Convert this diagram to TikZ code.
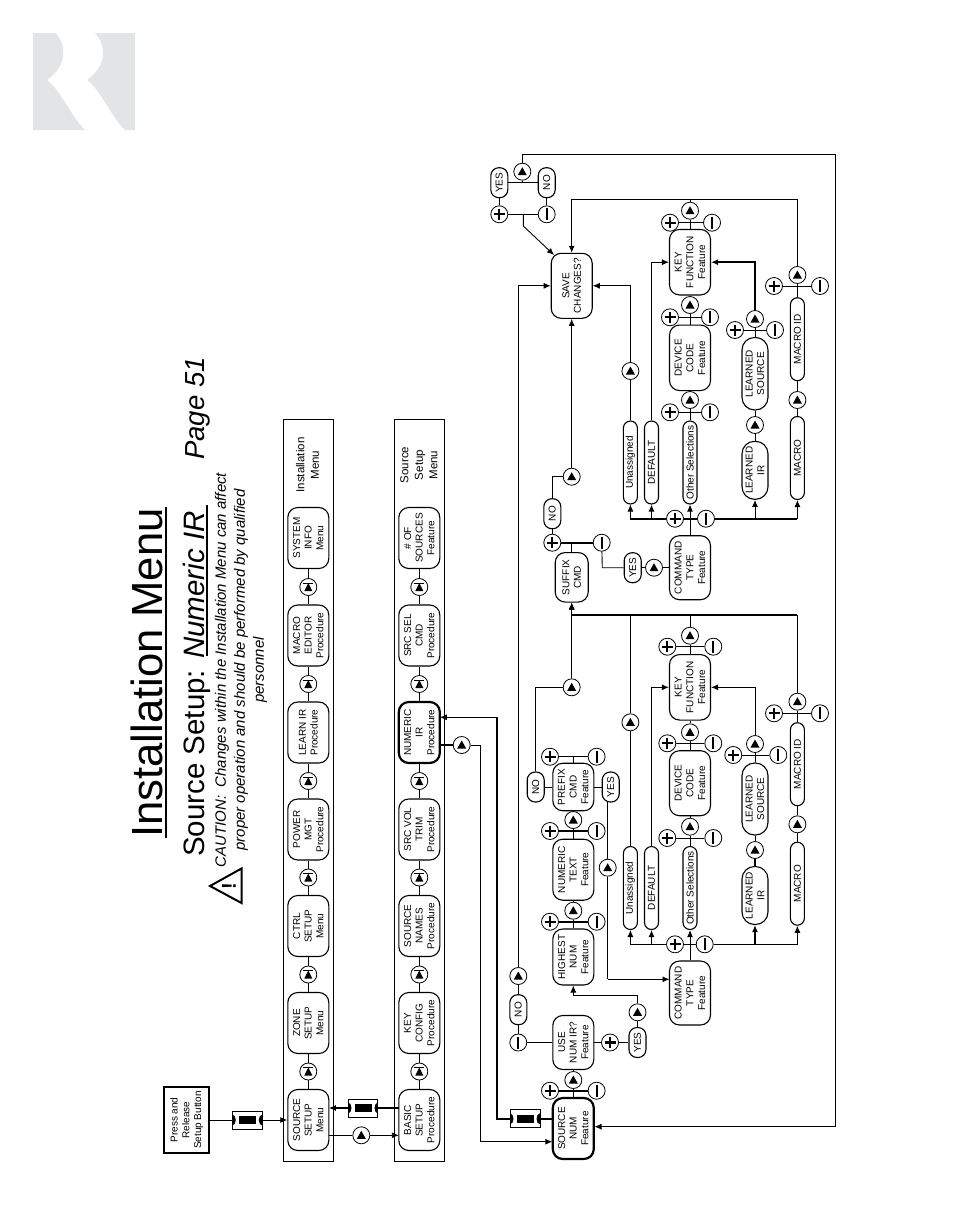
\documentclass[tikz,border=0pt]{standalone}
\usepackage{fontspec}
\setmainfont{Liberation Sans}
\usetikzlibrary{shapes,arrows,arrows.meta,positioning}
\definecolor{logogray}{HTML}{E3E4E6}
\newcommand{\labelfont}{\fontsize{10}{11.7}\selectfont}
\tikzset{
  boxnode/.style={draw, rectangle, rounded corners=10pt, rotate=90, align=center, fill=white, line width=1.1pt, inner sep=0pt, minimum height=41pt, minimum width=61pt, font=\labelfont},
  boldbox/.style={boxnode, line width=2.2pt},
  pill/.style={boxnode, rounded corners=7pt, minimum height=14pt, minimum width=83pt},
  softpill/.style={boxnode, rounded corners=12.5pt, minimum height=26pt},
  yesno/.style={boxnode, rounded corners=8pt, minimum height=17pt, minimum width=30pt},
  strip/.style={draw, rectangle, line width=0.9pt, inner sep=0pt, minimum width=50pt, minimum height=742pt},
  btn/.style={draw, circle, fill=white, line width=0.8pt, inner sep=0pt, minimum size=17pt},
  upbtn/.style={btn, path picture={\fill[black] (path picture bounding box.center) ++(-4.5,3.5) -- ++(9,0) -- ++(-4.5,-8) -- cycle;}},
  nextbtn/.style={btn, path picture={\fill[black] (path picture bounding box.center) ++(-4,4) -- ++(8,0) -- ++(-4,-8) -- cycle; \draw[line width=1pt] (path picture bounding box.center) ++(-5,-4) -- ++(10,0);}},
  plusbtn/.style={btn, path picture={\draw[line width=2.2pt] (path picture bounding box.center) ++(-5.5,0) -- ++(11,0); \draw[line width=2.2pt] (path picture bounding box.center) ++(0,-5.5) -- ++(0,11);}},
  minusbtn/.style={btn, path picture={\draw[line width=2.2pt] (path picture bounding box.center) ++(0,-6) -- ++(0,12);}},
  holdbtn/.style={draw, rectangle, fill=white, line width=0.9pt, inner sep=0pt, minimum width=30pt, minimum height=18pt, path picture={\fill[black] (path picture bounding box.center) ++(-8.5,-4) rectangle ++(17,8); \fill[black] (path picture bounding box.center) ++(-15,0) ellipse (3.5 and 5.5); \fill[black] (path picture bounding box.center) ++(15,0) ellipse (3.5 and 5.5);}},
  line/.style={line width=0.9pt},
  boldline/.style={line width=2pt},
  stripnote/.style={rotate=90, align=center, inner sep=0pt, font=\fontsize{11.5}{14.5}\selectfont}
}
\begin{document}
\begin{tikzpicture}[x=1pt, y=-1pt, >={Latex[length=7pt,width=6pt]}]
  \useasboundingbox (0,0) rectangle (954,1227);

  \fill[logogray] (33,33) -- (56,33) .. controls (66,45) and (68,65) .. (47,80) .. controls (62,92) and (70,115) .. (85,130) -- (33,130) -- cycle;
  \fill[logogray] (95,33) -- (135,33) -- (135,130) -- (125,130) .. controls (110,115) and (102,92) .. (87,80) .. controls (108,65) and (106,45) .. (95,33) -- cycle;

  \node[rotate=90, anchor=base west, inner sep=0pt, font=\fontsize{43.6}{50}\selectfont] (title) at (162,838) {Installation Menu};
  \draw[line width=1.8pt] (166,507) -- (166,838);
  \node[rotate=90, anchor=base west, inner sep=0pt, font=\fontsize{29.5}{34}\selectfont] (subtitle) at (204,857) {Source Setup: \textit{Numeric IR}};
  \draw[line width=1.2pt] (207,505) -- (207,656);
  \node[rotate=90, anchor=base west, inner sep=0pt, font=\fontsize{27.5}{32}\selectfont\itshape] (pageno) at (204,460) {Page 51};
  \node[rotate=90, align=center, inner sep=0pt, font=\fontsize{15}{19}\selectfont\itshape] (caution) at (241,670) {CAUTION:\ \ Changes within the Installation Menu can affect\\proper operation and should be performed by qualified\\personnel};
  \draw[line width=2pt, line join=miter, fill=white] (210,886) -- (241.5,868.5) -- (241.5,903) -- cycle;
  \node[rotate=90, inner sep=0pt, font=\fontsize{20}{22}\selectfont\bfseries] (warnmark) at (229,886) {!};

  \node[draw, rectangle, rotate=90, line width=2pt, align=center, inner sep=0pt, minimum width=66pt, minimum height=45pt, font=\labelfont] (press) at (186.8,1120) {Press and\\Release\\Setup Button};
  \node[holdbtn] (presshold) at (247.3,1120) {};

  \node[strip] (installstrip) at (308.3,790.5) {};
  \node[strip] (sourcestrip) at (419.3,790.5) {};
  \node[stripnote] (installnote) at (307.5,465) {Installation\\Menu};
  \node[stripnote] (sourcenote) at (419,465) {Source\\Setup\\Menu};

  \node[boxnode] (srcsetup) at (308.3,1120) {SOURCE\\SETUP\\Menu};
  \node[nextbtn] (zonenext) at (308.3,1071.5) {};
  \node[boxnode] (zonesetup) at (308.3,1023) {ZONE\\SETUP\\Menu};
  \node[nextbtn] (ctrlnext) at (308.3,974.5) {};
  \node[boxnode] (ctrlsetup) at (308.3,926) {CTRL\\SETUP\\Menu};
  \node[nextbtn] (powernext) at (308.3,877.5) {};
  \node[boxnode] (powermgt) at (308.3,829.5) {POWER\\MGT\\Procedure};
  \node[nextbtn] (learnnext) at (308.3,781) {};
  \node[boxnode] (learnir) at (308.3,732.5) {LEARN IR\\Procedure};
  \node[nextbtn] (macronext) at (308.3,684) {};
  \node[boxnode] (macroedit) at (308.3,635.5) {MACRO\\EDITOR\\Procedure};
  \node[nextbtn] (systemnext) at (308.3,587) {};
  \node[boxnode] (systeminfo) at (308.3,538) {SYSTEM\\INFO\\Menu};

  \node[boxnode] (basicsetup) at (419.3,1120) {BASIC\\SETUP\\Procedure};
  \node[nextbtn] (keynext) at (419.3,1071.5) {};
  \node[boxnode] (keyconfig) at (419.3,1023) {KEY\\CONFIG\\Procedure};
  \node[nextbtn] (namesnext) at (419.3,974.5) {};
  \node[boxnode] (srcnames) at (419.3,926) {SOURCE\\NAMES\\Procedure};
  \node[nextbtn] (trimnext) at (419.3,877.5) {};
  \node[boxnode] (volumetrim) at (419.3,829.5) {SRC VOL\\TRIM\\Procedure};
  \node[nextbtn] (numericnext) at (419.3,781) {};
  \node[boxnode, line width=2.2pt] (numericir) at (419.3,732.5) {NUMERIC\\IR\\Procedure};
  \node[nextbtn] (selnext) at (419.3,684) {};
  \node[boxnode] (srcselcmd) at (419.3,635.5) {SRC SEL\\CMD\\Procedure};
  \node[nextbtn] (sourcesnext) at (419.3,587) {};
  \node[boxnode] (numsources) at (419.3,538) {\# OF\\SOURCES\\Feature};

  \node[holdbtn, minimum width=29pt] (basichold) at (363,1108) {};
  \node[upbtn] (basicnext) at (361.3,1135.3) {};
  \coordinate (basicout) at (398.8,1108);
  \coordinate (srcsetupin) at (328.8,1108);
  \coordinate (srcsetupout) at (328.8,1135.3);
  \coordinate (basicin) at (398.8,1135.3);

  \draw[line] (press) -- (presshold);
  \draw[line, ->] (presshold) -- (srcsetup);
  \draw[boldline] (basicout) -- (basichold);
  \draw[boldline, ->] (basichold) -- (srcsetupin);
  \draw[line] (srcsetupout) -- (basicnext);
  \draw[line, ->] (basicnext) -- (basicin);

  \draw[line] (srcsetup) -- (zonenext) -- (zonesetup) -- (ctrlnext) -- (ctrlsetup) -- (powernext) -- (powermgt) -- (learnnext) -- (learnir) -- (macronext) -- (macroedit) -- (systemnext) -- (systeminfo);
  \draw[line] (basicsetup) -- (keynext) -- (keyconfig) -- (namesnext) -- (srcnames) -- (trimnext) -- (volumetrim) -- (numericnext) -- (numericir) -- (selnext) -- (srcselcmd) -- (sourcesnext) -- (numsources);

  \node[boldbox] (srcnum) at (573.3,1128.5) {SOURCE\\NUM\\Feature};
  \node[plusbtn] (srcnumplus) at (550,1090.7) {};
  \node[minusbtn] (srcnumminus) at (596.6,1090.7) {};
  \node[upbtn] (usenext) at (573.3,1080) {};
  \node[boxnode, minimum width=54pt] (usenum) at (573.3,1042.5) {USE\\NUM IR?\\Feature};
  \node[minusbtn] (useminus) at (518.3,1042.5) {};
  \node[yesno] (useno) at (518.3,1009.7) {NO};
  \node[upbtn] (usenonext) at (518.3,976) {};
  \node[plusbtn] (useplus) at (610,1042.5) {};
  \node[yesno] (useyes) at (637.5,1042.5) {YES};
  \node[upbtn] (useyesnext) at (637.5,1012.3) {};
  \node[boxnode, minimum width=56pt] (highest) at (573.3,957) {HIGHEST\\NUM\\Feature};
  \node[plusbtn] (highplus) at (550,921.7) {};
  \node[minusbtn] (highminus) at (596.6,921.7) {};
  \node[upbtn] (highnext) at (573.3,910.7) {};
  \node[boxnode] (numtext) at (573.3,869.7) {NUMERIC\\TEXT\\Feature};
  \node[plusbtn] (textplus) at (550,831) {};
  \node[minusbtn] (textminus) at (596.6,831) {};
  \node[upbtn] (textnext) at (573.3,820) {};
  \node[boxnode, minimum width=47.5pt] (prefix) at (573.3,787) {PREFIX\\CMD\\Feature};
  \node[plusbtn] (prefixplus) at (550,756.7) {};
  \node[minusbtn] (prefixminus) at (596.6,756.7) {};
  \node[yesno] (prefixno) at (535.7,787) {NO};
  \node[yesno] (prefixyes) at (610.7,787) {YES};
  \node[upbtn] (prefixyesnext) at (607.7,867.7) {};
  \node[upbtn] (prefixnonext) at (571.7,687.3) {};

  \node[boxnode, minimum width=64pt] (cmdtypea) at (690,993) {COMMAND\\TYPE\\Feature};
  \node[plusbtn] (cmdaplus) at (675,944.3) {};
  \node[minusbtn] (cmdaminus) at (704.7,944.3) {};
  \node[pill] (unassigna) at (630.4,888) {Unassigned};
  \node[pill] (defaulta) at (651.5,888) {DEFAULT};
  \node[pill] (othera) at (690,888) {Other Selections};
  \node[softpill, minimum width=58pt] (irleara) at (755,895.5) {LEARNED\\IR};
  \node[pill] (macroa) at (797.4,883.7) {MACRO};
  \node[upbtn] (unassignanext) at (630.4,722.3) {};
  \node[plusbtn] (otheraplus) at (667.3,838) {};
  \node[minusbtn] (otheraminus) at (713.3,838) {};
  \node[upbtn] (otheranext) at (690,826.7) {};
  \node[boxnode, minimum width=65pt] (devicea) at (690,783.2) {DEVICE\\CODE\\Feature};
  \node[plusbtn] (deviceaplus) at (667.3,743.3) {};
  \node[minusbtn] (deviceaminus) at (713.3,743.3) {};
  \node[upbtn] (deviceanext) at (690,732.3) {};
  \node[boxnode, minimum width=65.5pt] (keyfuna) at (690,687.3) {KEY\\FUNCTION\\Feature};
  \node[plusbtn] (keyaplus) at (667.3,646.7) {};
  \node[minusbtn] (keyaminus) at (713.3,646.7) {};
  \node[upbtn] (keyanext) at (690,635.7) {};
  \node[upbtn] (irleananext) at (755,850) {};
  \node[softpill, minimum width=72pt] (srclearna) at (755,799) {LEARNED\\SOURCE};
  \node[plusbtn] (srclearnaplus) at (733.3,755) {};
  \node[minusbtn] (srclearnaminus) at (778.3,755) {};
  \node[upbtn] (srclearnanext) at (755,744) {};
  \node[upbtn] (macroanext) at (797.4,824.3) {};
  \node[pill] (macroida) at (797.4,764.2) {MACRO ID};
  \node[plusbtn] (macroaplus) at (774,713.3) {};
  \node[minusbtn] (macroaminus) at (820,713.3) {};
  \node[upbtn] (macroidanext) at (797.4,701.7) {};

  \node[boxnode, minimum height=33pt, minimum width=49.5pt] (suffix) at (571.7,577.3) {SUFFIX\\CMD};
  \node[plusbtn] (suffixplus) at (552.3,542.7) {};
  \node[minusbtn] (suffixminus) at (601.7,542.7) {};
  \node[yesno] (suffixno) at (552.3,513.7) {NO};
  \node[upbtn] (suffixnext) at (571.7,476.7) {};
  \node[yesno] (suffixyes) at (632.7,567.7) {YES};
  \node[upbtn] (cmdbnext) at (654,567.7) {};
  \node[boxnode, minimum width=64pt] (cmdtypeb) at (690,567.7) {COMMAND\\TYPE\\Feature};
  \node[plusbtn] (cmdbplus) at (675,518.7) {};
  \node[minusbtn] (cmdbminus) at (706,518.7) {};
  \node[pill] (unassignb) at (630.4,462.5) {Unassigned};
  \node[pill] (defaultb) at (651.5,462.5) {DEFAULT};
  \node[pill] (otherb) at (690,462.5) {Other Selections};
  \node[softpill, minimum width=58pt] (irlearb) at (755,470.3) {LEARNED\\IR};
  \node[pill] (macrob) at (797.4,458) {MACRO};
  \node[upbtn] (unassignbnext) at (630.4,371) {};
  \node[plusbtn] (otherbplus) at (670,412.3) {};
  \node[minusbtn] (otherbminus) at (710,412.3) {};
  \node[upbtn] (otherbnext) at (690,400) {};
  \node[boxnode, minimum width=65.5pt] (deviceb) at (690,357.8) {DEVICE\\CODE\\Feature};
  \node[plusbtn] (devicebplus) at (670,317.3) {};
  \node[minusbtn] (devicebminus) at (710,317.3) {};
  \node[upbtn] (devicebnext) at (690,305) {};
  \node[boxnode, minimum width=65.5pt] (keyfunb) at (690,262.2) {KEY\\FUNCTION\\Feature};
  \node[plusbtn] (keybplus) at (670,222.7) {};
  \node[minusbtn] (keybminus) at (712,222.7) {};
  \node[upbtn] (keybnext) at (690,210.7) {};
  \node[upbtn] (irlearbnext) at (755,425) {};
  \node[softpill, minimum width=72.5pt] (srclearnb) at (755,373.7) {LEARNED\\SOURCE};
  \node[plusbtn] (srclearnbplus) at (735,330) {};
  \node[minusbtn] (srclearnbminus) at (775,330) {};
  \node[upbtn] (srclearnbnext) at (755,319) {};
  \node[upbtn] (macrobnext) at (797.4,400) {};
  \node[pill] (macroidb) at (797.4,339.2) {MACRO ID};
  \node[plusbtn] (macrobplus) at (774,286) {};
  \node[minusbtn] (macrobminus) at (820,286) {};
  \node[upbtn] (macroidbnext) at (797.4,275) {};

  \node[boxnode, minimum width=65pt] (savechanges) at (571.7,285.8) {SAVE\\CHANGES?};
  \node[plusbtn] (saveplus) at (499.3,214.3) {};
  \node[minusbtn] (saveminus) at (546.7,214.3) {};
  \node[yesno] (saveyes) at (499.3,182.7) {YES};
  \node[yesno] (saveno) at (546.7,182.7) {NO};
  \node[upbtn] (savenext) at (522.3,171.7) {};

  \node[holdbtn] (srcnumhold) at (525,1118.8) {};
  \node[upbtn] (numericout) at (461.7,745) {};

  \coordinate (numericin) at (439.8,717.3);
  \coordinate (numericexit) at (439.8,745);
  \coordinate (holdcornera) at (496.7,717.3);
  \coordinate (holdcornerb) at (496.7,1118.8);
  \coordinate (srcnumout) at (552.3,1118.8);
  \coordinate (returncornera) at (480.5,745);
  \coordinate (returncornerb) at (480.5,1141.7);
  \coordinate (srcnumin) at (552.3,1141.7);
  \coordinate (highcorner) at (573.3,995.7);
  \coordinate (cmdaentry) at (669.5,979.3);
  \coordinate (cmdacornera) at (607.7,979.3);
  \coordinate (prefixyesdown) at (607.7,802);
  \coordinate (prefixbar) at (573.3,756.7);
  \coordinate (cmdadefault) at (651.5,944.3);
  \coordinate (cmdair) at (755,944.3);
  \coordinate (joinsuffix) at (571.7,615);
  \coordinate (joinunassign) at (630.4,615);
  \coordinate (joinkey) at (690,615);
  \coordinate (joinmacro) at (797.4,615);
  \coordinate (suffixnocorner) at (552.3,476.7);
  \coordinate (suffixyescorner) at (602.3,567.7);
  \coordinate (cmdbleft) at (630.4,518.7);
  \coordinate (cmdbdefault) at (651.5,518.7);
  \coordinate (cmdbir) at (755,518.7);
  \coordinate (cmdbmacro) at (797.4,518.7);
  \coordinate (suffixtop) at (571.7,542.7);
  \coordinate (joinsave) at (571.7,199.3);
  \coordinate (joinkeyb) at (690,199.3);
  \coordinate (joinmacrob) at (797.4,199.3);
  \coordinate (savejoin) at (523.3,214.3);
  \coordinate (savebend) at (523.3,226);
  \coordinate (savetip) at (554,255);
  \coordinate (yesnojoin) at (522.3,182.7);
  \coordinate (loopa) at (522.3,154.3);
  \coordinate (loopb) at (835,154.3);
  \coordinate (loopc) at (835,1126.7);
  \coordinate (srcnumback) at (594.5,1126.7);

  \draw[boldline] (holdcornera) -- (holdcornerb) -- (srcnumhold) -- (srcnumout);
  \draw[line, <-] (numericin) -- (holdcornera);
  \draw[boldline] (numericexit) -- (numericout);
  \draw[line] (numericout) -- (returncornera) -- (returncornerb);
  \draw[line, ->] (returncornerb) -- (srcnumin);

  \draw[boldline] (srcnumplus) -- (srcnumminus);
  \draw[line] (srcnum) -- (usenext) -- (usenum);
  \draw[line] (usenum) -- (useminus) -- (useno) -- (usenonext);
  \draw[line, ->] (usenonext) |- (savechanges);
  \draw[line] (usenum) -- (useplus) -- (useyes) -- (useyesnext);
  \draw[line] (useyesnext) -- (useyesnext |- highcorner) -- (highcorner);
  \draw[line, ->] (highcorner) -- (highest);
  \draw[boldline] (highplus) -- (highminus);
  \draw[line] (highest) -- (highnext) -- (numtext);
  \draw[boldline] (textplus) -- (textminus);
  \draw[line] (numtext) -- (textnext) -- (prefix);
  \draw[line] (prefixplus) -- (prefixminus);
  \draw[line] (prefix) -- (prefixbar);
  \draw[line] (prefix) -- (prefixno);
  \draw[line] (prefix) -- (prefixyes);
  \draw[line] (prefixyesdown) -- (prefixyesnext);
  \draw[line] (prefixyesnext) -- (cmdacornera);
  \draw[line, ->] (cmdacornera) -- (cmdaentry);
  \draw[line] (prefixno) |- (prefixnonext);
  \draw[line, ->] (prefixnonext) -- (suffix);

  \draw[line, ->] (cmdtypea) -- (othera);
  \draw[line] (cmdaplus) -- (cmdaminus);
  \draw[line, ->] (cmdaplus) -| (unassigna);
  \draw[line, ->] (cmdadefault) -- (defaulta);
  \draw[line, ->] (cmdaminus) -| (macroa);
  \draw[boldline, ->] (cmdair) -- (irleara);
  \draw[line] (unassigna) -- (unassignanext) -- (joinunassign);
  \draw[line, ->] (defaulta) |- (keyfuna);
  \draw[line] (othera) -- (otheranext) -- (devicea);
  \draw[line] (otheraplus) -- (otheraminus);
  \draw[line] (devicea) -- (deviceanext) -- (keyfuna);
  \draw[line] (deviceaplus) -- (deviceaminus);
  \draw[line] (keyaplus) -- (keyaminus);
  \draw[line] (keyfuna) -- (keyanext) -- (joinkey);
  \draw[boldline] (irleara) -- (irleananext);
  \draw[line] (irleananext) -- (srclearna);
  \draw[line] (srclearnaplus) -- (srclearnaminus);
  \draw[line] (srclearna) -- (srclearnanext);
  \draw[line, ->] (srclearnanext) |- (keyfuna);
  \draw[line] (macroa) -- (macroanext) -- (macroida);
  \draw[line] (macroaplus) -- (macroaminus);
  \draw[line] (macroida) -- (macroidanext) -- (joinmacro);
  \draw[boldline] (joinsuffix) -- (joinmacro);
  \draw[line, ->] (joinsuffix) -- (suffix);

  \draw[boldline] (suffixplus) -- (suffixminus);
  \draw[line] (suffix) -- (suffixtop);
  \draw[line] (suffixplus) -- (suffixno);
  \draw[line] (suffixno) -- (suffixnocorner) -- (suffixnext);
  \draw[line, ->] (suffixnext) -- (savechanges);
  \draw[line] (suffixminus) -- (suffixyescorner) -- (suffixyes);
  \draw[line] (suffixyes) -- (cmdbnext) -- (cmdtypeb);
  \draw[line, ->] (cmdtypeb) -- (otherb);
  \draw[boldline] (cmdbplus) -- (cmdbminus);
  \draw[boldline] (cmdbplus) -- (cmdbleft);
  \draw[boldline] (cmdbminus) -- (cmdbmacro);
  \draw[line, ->] (cmdbleft) -- (unassignb);
  \draw[line, ->] (cmdbdefault) -- (defaultb);
  \draw[line, ->] (cmdbir) -- (irlearb);
  \draw[line, ->] (cmdbmacro) -- (macrob);
  \draw[line] (unassignb) -- (unassignbnext);
  \draw[line, ->] (unassignbnext) |- (savechanges);
  \draw[line, ->] (defaultb) |- (keyfunb);
  \draw[line] (otherb) -- (otherbnext) -- (deviceb);
  \draw[line] (otherbplus) -- (otherbminus);
  \draw[line] (deviceb) -- (devicebnext) -- (keyfunb);
  \draw[line] (devicebplus) -- (devicebminus);
  \draw[line] (keybplus) -- (keybminus);
  \draw[line] (keyfunb) -- (keybnext) -- (joinkeyb);
  \draw[line] (irlearb) -- (irlearbnext) -- (srclearnb);
  \draw[line] (srclearnbplus) -- (srclearnbminus);
  \draw[line] (srclearnb) -- (srclearnbnext);
  \draw[boldline, ->] (srclearnbnext) |- (keyfunb);
  \draw[line] (macrob) -- (macrobnext) -- (macroidb);
  \draw[line] (macrobplus) -- (macrobminus);
  \draw[line] (macroidb) -- (macroidbnext) -- (joinmacrob);
  \draw[line] (joinmacrob) -- (joinsave);
  \draw[line, ->] (joinsave) -- (savechanges);

  \draw[line] (saveplus) -- (saveminus);
  \draw[line] (saveplus) -- (saveyes);
  \draw[line] (saveminus) -- (saveno);
  \draw[line] (saveyes) -- (saveno);
  \draw[line, ->] (savejoin) -- (savebend) -- (savetip);
  \draw[line] (yesnojoin) -- (savenext) -- (loopa) -- (loopb) -- (loopc);
  \draw[line, ->] (loopc) -- (srcnumback);
\end{tikzpicture}
\end{document}
